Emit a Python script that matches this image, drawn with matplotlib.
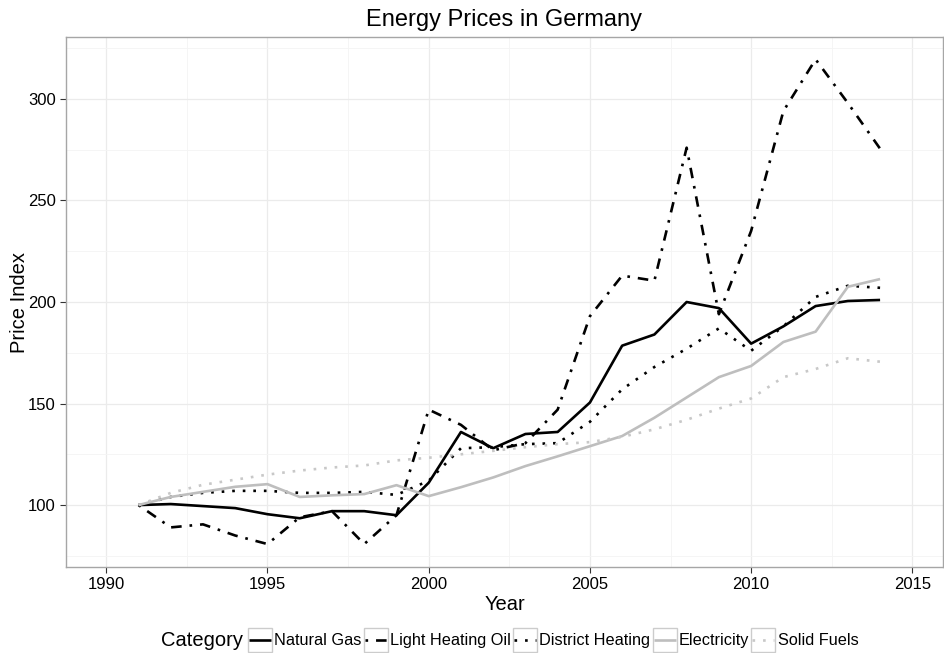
import matplotlib.pyplot as plt
from matplotlib.ticker import MultipleLocator
from matplotlib.patches import Rectangle

plt.rcParams['font.family'] = ['Liberation Sans', 'DejaVu Sans']

years = list(range(1991, 2015))

natural_gas = [100, 100.5, 99.5, 98.5, 95.5, 93.5, 97, 97, 95, 111, 136, 128,
               135, 136, 150.5, 178.5, 184, 200, 197, 179.5, 188, 198, 200.5, 201]
heating_oil = [100, 89, 90.5, 85, 80.8, 94, 97, 80.8, 95, 147, 139.5, 127,
               130.5, 147, 193, 213, 210.5, 276, 194, 235, 294, 319.5, 298, 275.5]
district_heating = [100, 104, 106, 107, 107, 106, 106, 106.5, 105, 112, 128, 128.5,
                    130, 130.5, 141, 157, 168, 177, 187, 176, 188, 202.5, 208, 207]
electricity = [100, 104, 106.5, 109, 110.3, 104, 104.8, 105.4, 109.8, 104.4, 108.8, 113.6,
               119.2, 124, 129, 134, 143, 153, 163, 168.5, 180.3, 185.4, 207.5, 211.3]
solid_fuels = [100, 106, 110, 112.5, 115, 117, 118.5, 119.5, 122, 123.3, 125, 126.7,
               128.5, 130, 131, 133.6, 137.3, 142, 147.5, 152.5, 163, 167, 172.3, 170.6]

series = [
    ("Natural Gas", natural_gas, "black", "-"),
    ("Light Heating Oil", heating_oil, "black", (0, (1, 3, 4, 3))),
    ("District Heating", district_heating, "black", (0, (1, 3))),
    ("Electricity", electricity, "#bebebe", "-"),
    ("Solid Fuels", solid_fuels, "#c8c8c8", (0, (1, 3))),
]

fig = plt.figure(figsize=(9.44, 6.53), dpi=100)
ax = fig.add_axes([0.0699, 0.1317, 0.929, 0.8116])

for name, vals, col, ls in series:
    ax.plot(years, vals, color=col, linestyle=ls, lw=1.9, label=name,
            solid_capstyle='butt', dash_capstyle='butt')

ax.set_xlim(1988.75, 2015.95)
ax.set_ylim(69.5, 330.5)
ax.xaxis.set_major_locator(MultipleLocator(5))
ax.xaxis.set_minor_locator(MultipleLocator(2.5))
ax.yaxis.set_major_locator(MultipleLocator(50))
ax.yaxis.set_minor_locator(MultipleLocator(25))
ax.grid(which='major', color='#ebebeb', lw=0.9)
ax.grid(which='minor', color='#f4f4f4', lw=0.6)
ax.set_axisbelow(True)
ax.tick_params(which='minor', length=0)
ax.tick_params(which='major', length=4, color='#333333', labelsize=12,
               labelcolor='black', width=0.8)
for s in ax.spines.values():
    s.set_color('#a6a6a6')
    s.set_linewidth(1)

ax.set_title("Energy Prices in Germany", fontsize=17, pad=8)
ax.set_xlabel("Year", fontsize=14.5, labelpad=2)
ax.set_ylabel("Price Index", fontsize=14.5, labelpad=-1)

fig.text(0.171, 0.0184, "Category", fontsize=14.5, ha='left', va='center')
leg = fig.legend(loc='center left', bbox_to_anchor=(0.2638, 0.0184), ncol=5,
                 frameon=False, fontsize=11.7, handlelength=1.35, handletextpad=0.2,
                 columnspacing=0.2, borderaxespad=0, borderpad=0)

# grey key boxes like ggplot legend keys
fig.canvas.draw()
r = fig.canvas.get_renderer()
W, H = fig.bbox.width, fig.bbox.height
for h in leg.legend_handles:
    bb = h.get_window_extent(r)
    cx, cy = (bb.x0 + bb.x1) / 2, (bb.y0 + bb.y1) / 2
    fig.patches.append(Rectangle(((cx - 12) / W, (cy - 12) / H), 24 / W, 24 / H,
                                 transform=fig.transFigure, facecolor='white',
                                 edgecolor='#cccccc', lw=1, zorder=-1))

fig.savefig("out.png", dpi=100)
